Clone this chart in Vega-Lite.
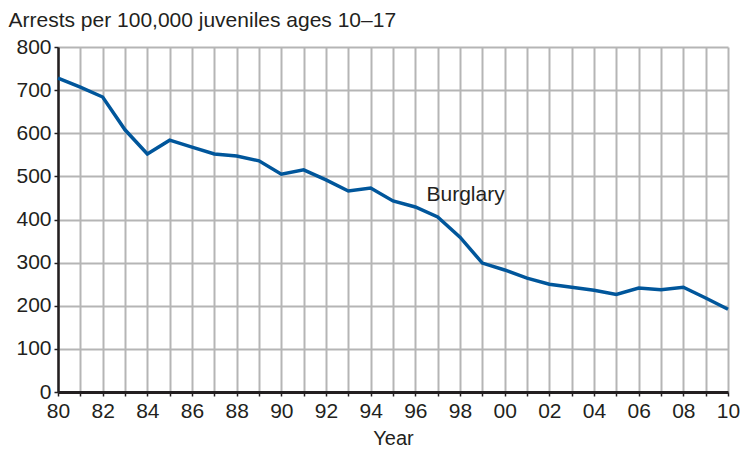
{
  "$schema": "https://vega.github.io/schema/vega-lite/v6.json",
  "width": 670,
  "height": 345,
  "autosize": {"type": "none"},
  "padding": {"left": 58, "top": 47, "right": 22, "bottom": 57},
  "background": "white",
  "config": {
    "view": {"stroke": null},
    "font": "Liberation Sans",
    "axis": {"labelFont": "Liberation Sans", "titleFont": "Liberation Sans", "labelColor": "#231f20", "titleColor": "#231f20"}
  },
  "encoding": {
    "x": {
      "field": "year", "type": "quantitative",
      "scale": {"domain": [1980, 2010], "nice": false, "zero": false},
      "axis": {
        "values": [1980,1981,1982,1983,1984,1985,1986,1987,1988,1989,1990,1991,1992,1993,1994,1995,1996,1997,1998,1999,2000,2001,2002,2003,2004,2005,2006,2007,2008,2009,2010],
        "format": "d",
        "labelExpr": "datum.value % 2 == 0 ? slice(datum.label, 2) : ''",
        "labelOverlap": false,
        "labelFlush": false,
        "labelFontSize": 21,
        "labelPadding": 4,
        "grid": true, "gridColor": "#b5b5b5", "gridWidth": 2,
        "domainColor": "#231f20", "domainWidth": 3,
        "ticks": true, "tickColor": "#231f20", "tickSize": 4, "tickWidth": 1.5,
        "title": "Year", "titleFontSize": 20, "titleFontWeight": "normal", "titlePadding": 7
      }
    },
    "y": {
      "field": "rate", "type": "quantitative",
      "scale": {"domain": [0, 800], "nice": false},
      "axis": {
        "values": [0,100,200,300,400,500,600,700,800],
        "labelFontSize": 21,
        "labelPadding": 3,
        "grid": true, "gridColor": "#b5b5b5", "gridWidth": 2,
        "domainColor": "#231f20", "domainWidth": 2.5,
        "ticks": true, "tickColor": "#231f20", "tickSize": 4, "tickWidth": 1.5,
        "title": "Arrests per 100,000 juveniles ages 10–17",
        "titleFontSize": 21, "titleFontWeight": "normal",
        "titleAngle": 0, "titleAlign": "left", "titleBaseline": "alphabetic",
        "titleX": -50, "titleY": -21
      }
    }
  },
  "layer": [
    {
      "data": {"values": [
        {"year": 1980, "rate": 728}, {"year": 1981, "rate": 707}, {"year": 1982, "rate": 684},
        {"year": 1983, "rate": 608}, {"year": 1984, "rate": 552}, {"year": 1985, "rate": 584},
        {"year": 1986, "rate": 568}, {"year": 1987, "rate": 552}, {"year": 1988, "rate": 547},
        {"year": 1989, "rate": 536}, {"year": 1990, "rate": 505}, {"year": 1991, "rate": 515},
        {"year": 1992, "rate": 492}, {"year": 1993, "rate": 466}, {"year": 1994, "rate": 473},
        {"year": 1995, "rate": 443}, {"year": 1996, "rate": 429}, {"year": 1997, "rate": 406},
        {"year": 1998, "rate": 359}, {"year": 1999, "rate": 299}, {"year": 2000, "rate": 283},
        {"year": 2001, "rate": 264}, {"year": 2002, "rate": 250}, {"year": 2003, "rate": 243},
        {"year": 2004, "rate": 236}, {"year": 2005, "rate": 226}, {"year": 2006, "rate": 241},
        {"year": 2007, "rate": 237}, {"year": 2008, "rate": 243}, {"year": 2009, "rate": 218},
        {"year": 2010, "rate": 192}
      ]},
      "mark": {"type": "line", "color": "#00569b", "strokeWidth": 3.5, "strokeJoin": "miter"}
    },
    {
      "data": {"values": [{"year": 1996.5, "rate": 443, "label": "Burglary"}]},
      "mark": {"type": "text", "align": "left", "baseline": "alphabetic", "fontSize": 21, "color": "#231f20"},
      "encoding": {
        "text": {"field": "label"}
      }
    }
  ]
}
